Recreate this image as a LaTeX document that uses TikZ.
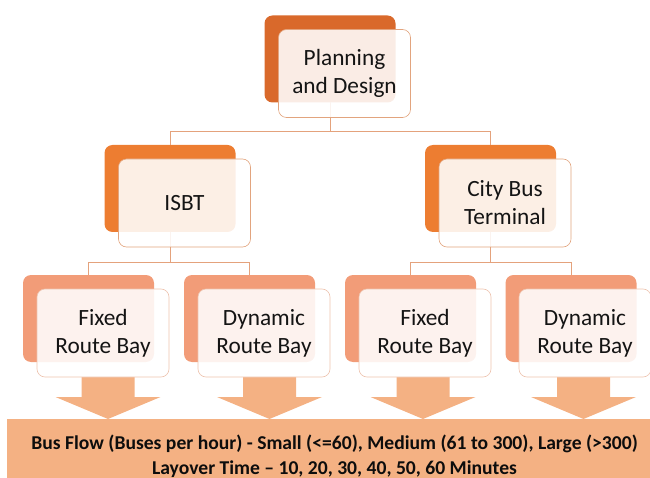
\documentclass[tikz,border=0pt]{standalone}
\usepackage{fontspec}
\setmainfont{Carlito}
\definecolor{topback}{HTML}{D9692B}
\definecolor{midback}{HTML}{ED7D31}
\definecolor{lowback}{HTML}{F29C78}
\definecolor{peach}{HTML}{F4B183}
\definecolor{frameline}{HTML}{E2A47E}
\definecolor{lowframe}{HTML}{EDC3AE}
\definecolor{linkline}{HTML}{E4A27C}
\begin{document}
\begin{tikzpicture}[x=1pt,y=-1pt,
  backbox/.style={draw=none,rounded corners=8pt,minimum width=131pt,minimum height=87pt,inner sep=0pt,outer sep=0pt},
  frontbox/.style={draw=frameline,line width=0.6pt,fill=white,fill opacity=0.88,text opacity=1,rounded corners=8pt,
     minimum width=132pt,minimum height=88pt,inner sep=0pt,outer sep=0pt,align=center,
     font=\fontsize{23.3}{28}\selectfont,text=black!92},
  lowfront/.style={frontbox,draw=lowframe},
  link/.style={draw=linkline,line width=0.7pt},
  blockarrow/.pic={\fill[peach] (-26.5,0) -- (26.5,0) -- (26.5,20) -- (52.5,20) -- (0,42) -- (-52.5,20) -- (-26.5,20) -- cycle;}
]
\useasboundingbox (0,0) rectangle (650,478);
% bottom band and arrows
\node[fill=peach,minimum width=643pt,minimum height=59pt,inner sep=0pt,outer sep=0pt,anchor=north west] (band) at (7,419) {};
\node[font=\fontsize{19.6}{25}\selectfont\bfseries,align=center,text=black!95] (bandtext) at (334.5,456)
  {Bus Flow (Buses per hour) - Small (<=60), Medium (61 to 300), Large (>300)\\Layover Time – 10, 20, 30, 40, 50, 60 Minutes};
\pic at (108,377) {blockarrow};
\pic at (269.5,377) {blockarrow};
\pic at (423,377) {blockarrow};
\pic at (583.5,377) {blockarrow};
% back boxes
\node[backbox,fill=topback] (P) at (330,59) {};
\node[backbox,fill=midback] (I) at (170,188.5) {};
\node[backbox,fill=midback] (C) at (490.5,188.5) {};
\node[backbox,fill=lowback] (F1) at (88.5,318.5) {};
\node[backbox,fill=lowback] (D1) at (249.5,318.5) {};
\node[backbox,fill=lowback] (F2) at (410.5,318.5) {};
\node[backbox,fill=lowback] (D2) at (571,318.5) {};
% connectors
\coordinate (h1) at (0,131);
\coordinate (h2) at (0,262);
\draw[link] (P.south) -- (P.south |- h1) -| (I.north);
\draw[link] (P.south |- h1) -| (C.north);
\draw[link] (I.south) -- (I.south |- h2) -| (F1.north);
\draw[link] (I.south |- h2) -| (D1.north);
\draw[link] (C.south) -- (C.south |- h2) -| (F2.north);
\draw[link] (C.south |- h2) -| (D2.north);
% front boxes
\node[frontbox] (Pf) at (344.5,73.5) {Planning\\and Design};
\node[frontbox] (If) at (184.5,203) {ISBT};
\node[frontbox] (Cf) at (505,203) {City Bus\\Terminal};
\node[lowfront] (F1f) at (103,333) {Fixed\\Route Bay};
\node[lowfront] (D1f) at (264,333) {Dynamic\\Route Bay};
\node[lowfront] (F2f) at (425,333) {Fixed\\Route Bay};
\node[lowfront] (D2f) at (585,333) {Dynamic\\Route Bay};
\end{tikzpicture}
\end{document}
